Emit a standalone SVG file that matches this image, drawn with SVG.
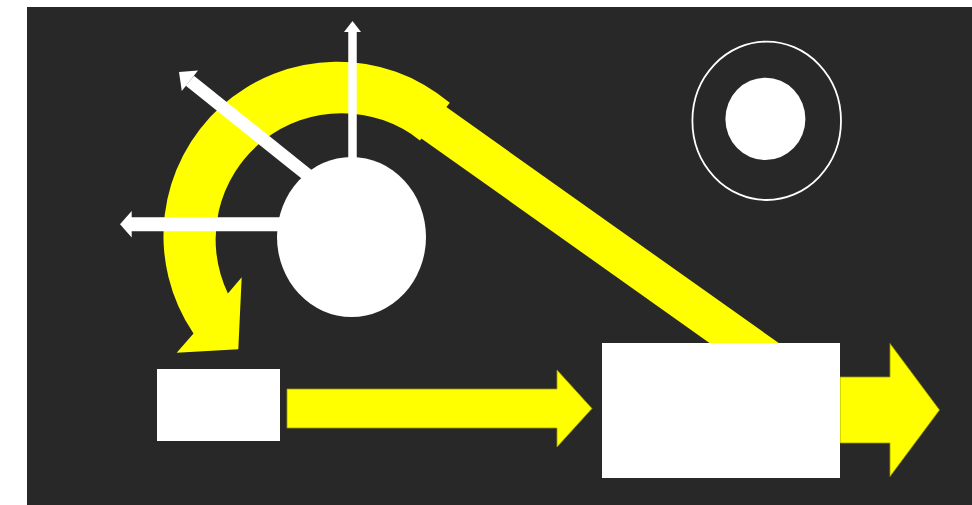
<svg xmlns="http://www.w3.org/2000/svg" width="972" height="505" viewBox="0 0 972 505">
  <style>
    .bg { fill: #282828; }
    .node { fill: #ffffff; }
    .yfill { fill: #ffff00; }
    .yblock { fill: #ffff00; stroke: #9a9a00; stroke-width: 0.8; stroke-linejoin: miter; }
    .yband { fill: none; stroke: #ffff00; stroke-width: 40; stroke-linecap: butt; }
    .wshaft { fill: none; stroke: #ffffff; stroke-linecap: butt; }
    .whead { fill: #ffffff; }
    .ring { fill: none; stroke: #ffffff; stroke-width: 1.8; }
  </style>
  <rect width="972" height="505" fill="#ffffff"/>
  <rect class="bg" x="27" y="7" width="945" height="498"/>

  <g id="connectors">
    <!-- curved yellow arrow around the ellipse -->
    <path class="yfill" d="M449.8,102.8 A174,174 0 0 0 193.5,333.4 L176.7,352.7 L238.3,349.3 L241.7,277.3 L227.9,293.4 A126,126 0 0 1 419.9,140.4 Z"/>
    <!-- diagonal yellow band to the big box -->
    <line class="yband" x1="432.6" y1="121.9" x2="770" y2="361.4"/>
    <!-- straight arrow small box -> big box -->
    <polygon class="yblock" points="287,389 557,389 557,370 592,408.5 557,447 557,428 287,428"/>
    <!-- output arrow from big box -->
    <polygon class="yblock" points="840,377 890,377 890,343.5 939.5,410 890,476.5 890,443 840,443"/>
    <!-- white arrows from the ellipse -->
    <line class="wshaft" stroke-width="8.5" x1="352.5" y1="31" x2="352.5" y2="172"/>
    <polygon class="whead" points="344,32 352.5,21 361,32"/>
    <line class="wshaft" stroke-width="13" x1="189.9" y1="80.75" x2="315" y2="181"/>
    <polygon class="whead" points="179,72 198,70.6 181.8,90.9"/>
    <line class="wshaft" stroke-width="14" x1="131" y1="224.2" x2="292" y2="224.2"/>
    <polygon class="whead" points="131.7,211 120,224.2 131.7,237.5"/>
  </g>

  <g id="node-source">
    <ellipse class="node" cx="351.5" cy="237" rx="74.5" ry="80"/>
  </g>
  <g id="node-target">
    <ellipse class="ring" cx="766.7" cy="120.8" rx="74.3" ry="79.2"/>
    <ellipse class="node" cx="765.4" cy="118.9" rx="40" ry="41.2"/>
  </g>
  <g id="node-small-box">
    <rect class="node" x="157" y="369" width="123" height="72"/>
  </g>
  <g id="node-big-box">
    <rect class="node" x="602" y="343" width="238" height="135"/>
  </g>
</svg>
